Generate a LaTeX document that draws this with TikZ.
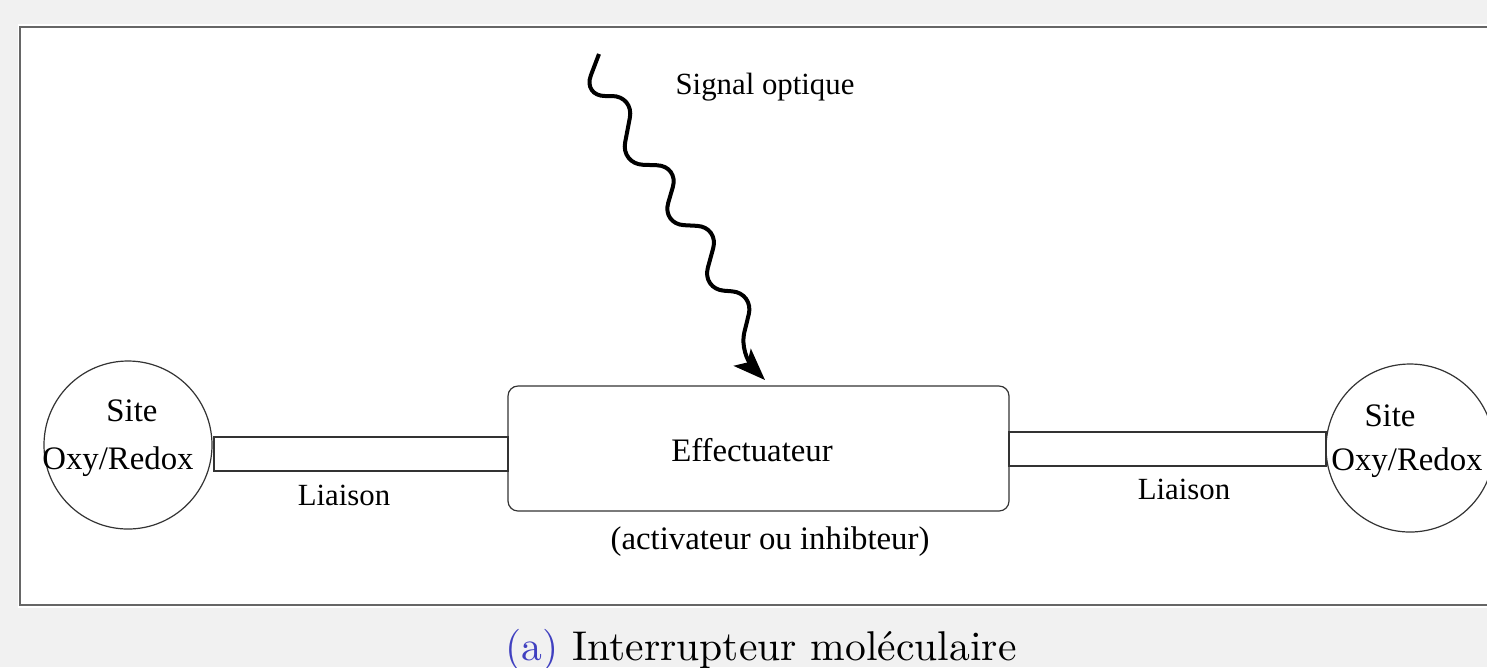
\documentclass[tikz,border=0pt]{standalone}
\usepackage{fontspec}
\newfontfamily\tnr{Liberation Serif}
\usetikzlibrary{arrows.meta}
\definecolor{bggray}{HTML}{F1F1F1}
\definecolor{framegray}{HTML}{666666}
\definecolor{linegray}{HTML}{333333}
\definecolor{capblue}{RGB}{64,64,192}
\begin{document}
\begin{tikzpicture}[x=0.25pt,y=-0.25pt,
  lbl/.style={inner sep=0pt,anchor=base,font=\tnr\fontsize{8.2}{10}\selectfont},
  slbl/.style={inner sep=0pt,anchor=base,font=\tnr\fontsize{7.7}{10}\selectfont},
  site/.style={circle,draw=linegray,line width=0.3pt,minimum size=42pt,inner sep=0pt},
  effbox/.style={rectangle,rounded corners=2.5pt,draw=linegray,line width=0.3pt,minimum width=125.25pt,minimum height=31.25pt,inner sep=0pt},
  bar/.style={rectangle,draw=linegray,line width=0.3pt,minimum height=8.5pt,inner sep=0pt},
  wave/.style={line width=1pt,rounded corners=5.5pt,-{Stealth[length=8pt,width=6pt,inset=1.8pt]}}]
\clip (0,0) rectangle (1487,667);
\useasboundingbox (0,0) rectangle (1487,667);
\fill[bggray] (0,0) rectangle (1487,667);
\fill[white] (18,24) rectangle (1500,608);
\draw[framegray,line width=0.5pt] (20,27) rectangle (1500,605);
% sites
\node[site] (lc) at (128,445) {};
\node[site] (rc) at (1410,448) {};
% effector box
\node[effbox] (eff) at (758.5,448.5) {};
% bars (liaisons)
\node[bar,minimum width=73.5pt] (lbar) at (361,454) {};
\node[bar,minimum width=79.25pt] (rbar) at (1167.5,449) {};
% texts
\node[lbl] (ls1) at (132,421) {Site};
\node[lbl] (ls2) at (118,469) {Oxy/Redox};
\node[lbl] (rs1) at (1390,426) {Site};
\node[lbl] (rs2) at (1407,470) {Oxy/Redox};
\node[slbl] (ll) at (344,505) {Liaison};
\node[slbl] (rl) at (1184,499) {Liaison};
\node[lbl] (efft) at (752,461) {Effectuateur};
\node[lbl] (effs) at (770,549) {(activateur ou inhibteur)};
\node[slbl] (sig) at (765,94) {Signal optique};
% optical signal wave
\coordinate (ws) at (599,54);
\coordinate (wt) at (765,380);
\draw[wave] (ws) -- (583,96) -- (634,96) -- (621,164) -- (679,166) -- (662,224) -- (719,227) -- (702,289) -- (754,293) -- (739,354) -- (wt);
% caption
\node[inner sep=0pt,anchor=base,font=\fontsize{10.4}{12}\selectfont] (cap) at (761,660) {\textcolor{capblue}{(a)} Interrupteur mol\'eculaire};
\end{tikzpicture}
\end{document}
